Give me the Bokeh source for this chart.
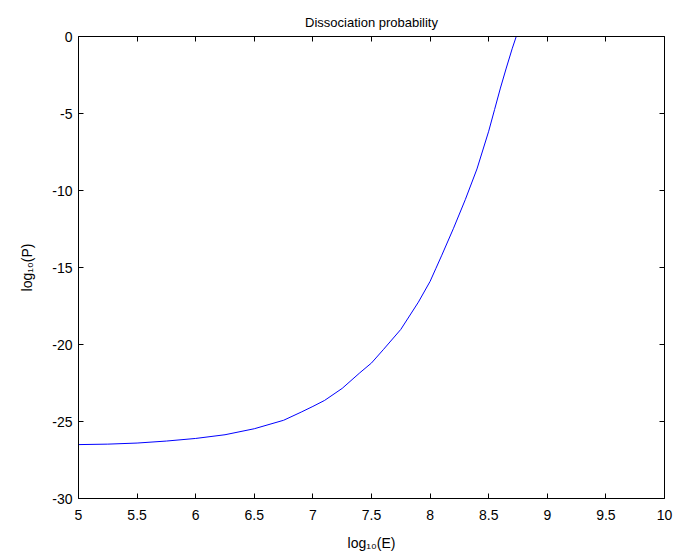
from bokeh.plotting import figure
from bokeh.models import LinearAxis, FixedTicker, Range1d, ColumnDataSource
from bokeh.embed import file_html
from bokeh.resources import INLINE

# Data
log_e = [5.0, 5.25, 5.5, 5.75, 6.0, 6.25, 6.5, 6.75, 6.9, 7.0, 7.1, 7.25,
         7.4, 7.5, 7.6, 7.75, 7.9, 8.0, 8.05, 8.1, 8.2, 8.3, 8.4, 8.5,
         8.55, 8.6, 8.65, 8.7, 8.735]
log_p = [-26.50, -26.47, -26.40, -26.27, -26.10, -25.86, -25.47, -24.92,
         -24.39, -24.02, -23.63, -22.85, -21.84, -21.20, -20.34, -19.02,
         -17.25, -15.90, -15.05, -14.20, -12.45, -10.60, -8.60, -6.15,
         -4.75, -3.35, -2.05, -0.80, 0.0]

x_ticks = [5, 5.5, 6, 6.5, 7, 7.5, 8, 8.5, 9, 9.5, 10]
x_tick_labels = ["5", "5.5", "6", "6.5", "7", "7.5", "8", "8.5", "9", "9.5", "10"]
y_ticks = [-30, -25, -20, -15, -10, -5, 0]
y_tick_labels = ["-30", "-25", "-20", "-15", "-10", "-5", "0"]

FONT = "Liberation Sans"
FS = "14px"

p = figure(width=673, height=559, output_backend="svg", toolbar_location=None,
           x_range=Range1d(5, 10), y_range=Range1d(-30, 0),
           x_axis_location=None, y_axis_location=None,
           min_border_left=78, min_border_right=9, min_border_top=36,
           min_border_bottom=61)
p.background_fill_color = "white"
p.border_fill_color = "white"
p.outline_line_color = None
p.grid.visible = False

p.title.text = "Dissociation probability"
p.title.align = "center"
p.title.text_font = FONT
p.title.text_font_size = "13px"
p.title.text_font_style = "normal"
p.title.text_color = "black"
p.title.standoff = 13

def make_axis(ticks, labels, show_labels, label=None):
    ax = LinearAxis(ticker=FixedTicker(ticks=ticks))
    ax.major_label_overrides = {t: s for t, s in zip(ticks, labels)}
    ax.major_tick_in = 5
    ax.major_tick_out = 0
    ax.minor_tick_line_color = None
    ax.axis_line_color = "black"
    ax.major_tick_line_color = "black"
    ax.major_label_text_font = FONT
    ax.major_label_text_font_size = FS
    ax.major_label_text_color = "black"
    if not show_labels:
        ax.major_label_text_font_size = "0px"
        ax.major_label_text_color = None
    if label:
        ax.axis_label = label
        ax.axis_label_text_font = FONT
        ax.axis_label_text_font_size = FS
        ax.axis_label_text_font_style = "normal"
        ax.axis_label_text_color = "black"
    return ax

bottom = make_axis(x_ticks, x_tick_labels, True, "log\u2081\u2080(E)")
bottom.major_label_standoff = 11
bottom.axis_label_standoff = 12
left = make_axis(y_ticks, y_tick_labels, True, "log\u2081\u2080(P)")
left.major_label_standoff = 6
left.axis_label_standoff = 14
top = make_axis(x_ticks, x_tick_labels, False)
right = make_axis(y_ticks, y_tick_labels, False)

p.add_layout(bottom, "below")
p.add_layout(left, "left")
p.add_layout(top, "above")
p.add_layout(right, "right")

src = ColumnDataSource(data=dict(x=log_e, y=log_p))
p.line("x", "y", source=src, line_color="#0000ff", line_width=1)

open("out.html", "w").write(file_html(p, INLINE))
